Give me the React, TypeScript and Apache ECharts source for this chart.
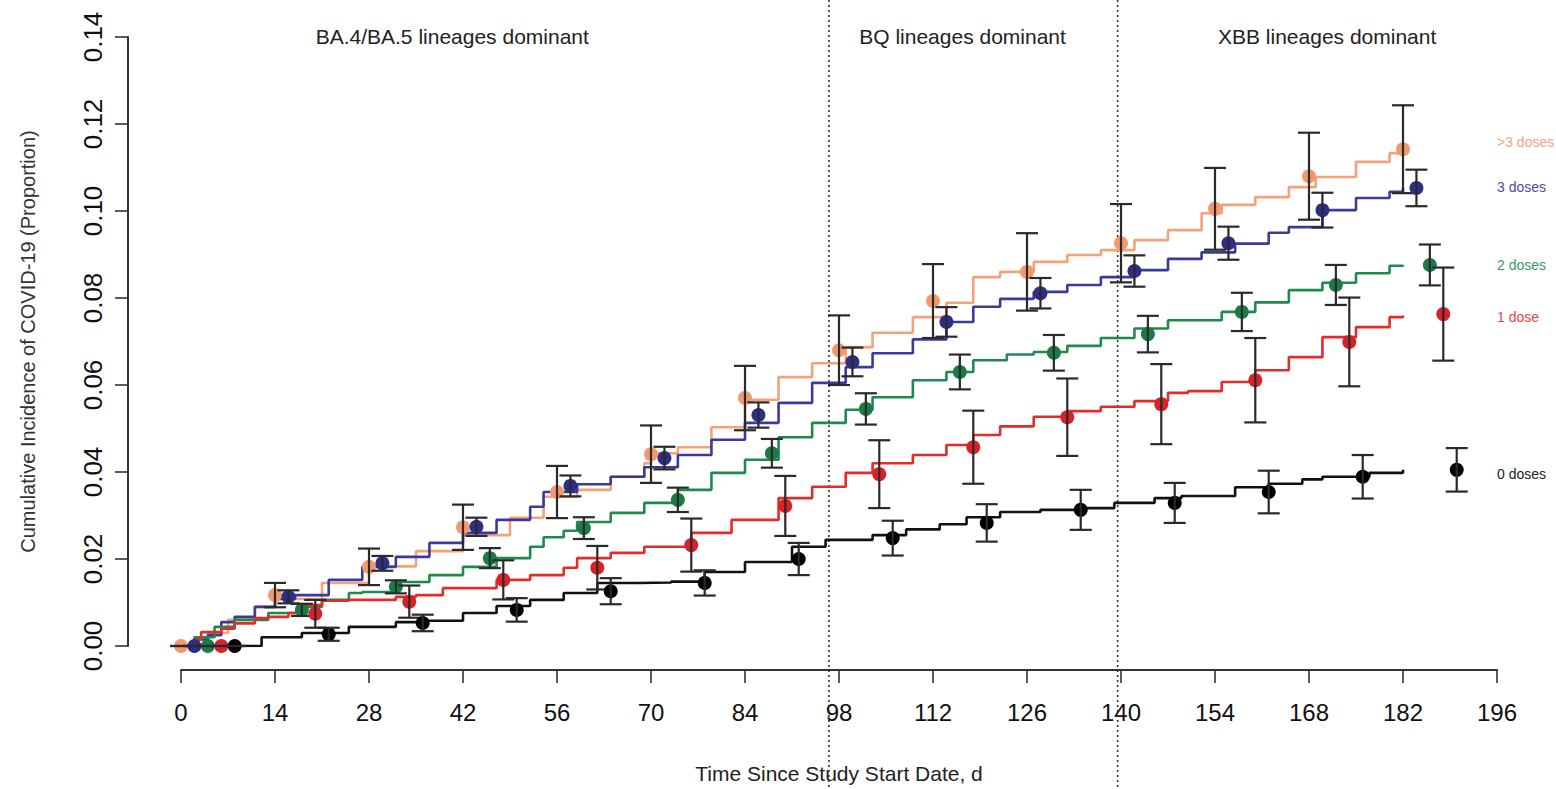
import React, { useEffect, useRef } from "react";
import * as echarts from "echarts";

// ---- Axis ticks ----
const xTicks = [0, 14, 28, 42, 56, 70, 84, 98, 112, 126, 140, 154, 168, 182, 196];
const yTicks = [0, 0.02, 0.04, 0.06, 0.08, 0.1, 0.12, 0.14];

// ---- Group names and colours ----
const groupNames = [">3 doses", "3 doses", "2 doses", "1 dose", "0 doses"];
const lineColors = ["#F4A27A", "#3A3A9C", "#1F8A4E", "#E32B2B", "#111111"];
const pointColors = ["#F29A6E", "#2E2E86", "#1B7A45", "#D62228", "#000000"];
const labelColors = ["#F4A582", "#4B4BA3", "#3A9A66", "#E84545", "#222222"];

// ---- Cumulative incidence step curves [day, proportion] ----
const curveGt3 = [[0,0],[2,0.0015],[4,0.003],[7,0.006],[11,0.009],[14,0.0108],[21,0.0145],[28,0.0183],[35,0.0218],[42,0.0255],[49,0.0295],[54,0.0343],[59,0.0359],[64,0.0389],[69,0.042],[70,0.0443],[74,0.0457],[79,0.0503],[84,0.0566],[89,0.0618],[94,0.065],[99,0.0687],[103,0.072],[109,0.0756],[114,0.0789],[118,0.0848],[122,0.086],[127,0.0883],[132,0.0899],[137,0.091],[142,0.0933],[147,0.0956],[152,0.0995],[155,0.1014],[160,0.1032],[165,0.1055],[169,0.1078],[175,0.1113],[180,0.1133],[182,0.1142]];
const curve3 = [[0,0],[2,0.0015],[4,0.0025],[6,0.0055],[8,0.0067],[11,0.009],[14,0.0108],[17,0.0117],[22,0.0152],[27,0.0182],[32,0.0205],[37,0.0237],[42,0.026],[47,0.029],[52,0.032],[54,0.0354],[59,0.0372],[64,0.0389],[69,0.0411],[74,0.0439],[79,0.0474],[84,0.0513],[89,0.0559],[94,0.0605],[99,0.0641],[103,0.0673],[109,0.0705],[114,0.0745],[118,0.078],[122,0.0798],[127,0.0814],[132,0.083],[137,0.0848],[142,0.0864],[147,0.089],[152,0.0905],[157,0.0925],[162,0.095],[165,0.0963],[170,0.1002],[175,0.103],[180,0.1044],[182,0.1053]];
const curve2 = [[0,0],[2,0.002],[5,0.0044],[8,0.006],[13,0.0076],[18,0.009],[21,0.0106],[25,0.0122],[27,0.0124],[32,0.0147],[37,0.0163],[42,0.0182],[47,0.0202],[52,0.0228],[54,0.025],[57,0.0265],[59,0.0285],[64,0.0306],[69,0.0329],[74,0.0359],[79,0.0398],[84,0.0428],[89,0.048],[94,0.0513],[99,0.0543],[103,0.0572],[109,0.0611],[114,0.063],[118,0.0657],[123,0.067],[127,0.0676],[132,0.069],[137,0.0708],[142,0.073],[147,0.0749],[155,0.0768],[160,0.079],[165,0.0818],[170,0.0835],[175,0.0857],[180,0.0874],[182,0.0876]];
const curve1 = [[0,0],[2,0.0015],[3,0.0032],[6,0.004],[8,0.0052],[11,0.0064],[13,0.0067],[16,0.0076],[18,0.0094],[21,0.0104],[25,0.0106],[31,0.0106],[32,0.0113],[35,0.0117],[39,0.0133],[47,0.0152],[52,0.0163],[57,0.018],[59,0.0202],[64,0.0214],[69,0.0228],[76,0.026],[82,0.029],[89,0.034],[94,0.0366],[99,0.0398],[103,0.042],[109,0.0439],[114,0.0462],[118,0.0485],[122,0.0505],[127,0.0527],[132,0.054],[137,0.055],[142,0.0563],[147,0.0582],[150,0.0586],[155,0.0607],[160,0.0634],[165,0.0664],[170,0.071],[175,0.0733],[180,0.0756],[182,0.076]];
const curve0 = [[0,0],[9,0],[12,0.002],[18,0.003],[25,0.0044],[32,0.0055],[36,0.0058],[42,0.0076],[47,0.0092],[52,0.0106],[57,0.0122],[62,0.0145],[68,0.0146],[73,0.0148],[78,0.017],[84,0.0193],[91,0.0228],[96,0.0244],[103,0.0255],[108,0.0268],[113,0.028],[117,0.0296],[122,0.0308],[128,0.0313],[134,0.0317],[139,0.0329],[145,0.034],[149,0.0345],[157,0.0365],[162,0.0373],[167,0.0383],[170,0.0389],[177,0.0398],[182,0.0405]];
const curves = [curveGt3, curve3, curve2, curve1, curve0];

// ---- Point estimates with 95% CI, every 14 days, each group offset by 2 days ----
const pointDaysBase = [0, 14, 28, 42, 56, 70, 84, 98, 112, 126, 140, 154, 168, 182];
const dayOffsets = [0, 2, 4, 6, 8];
const ptGt3 = [0, 0.0117, 0.0182, 0.0273, 0.0354, 0.0441, 0.057, 0.068, 0.0793, 0.086, 0.0926, 0.1005, 0.108, 0.1142];
const ciGt3 = [0, 0.0028, 0.0042, 0.0052, 0.006, 0.0066, 0.0074, 0.008, 0.0085, 0.0089, 0.009, 0.0094, 0.01, 0.0101];
const pt3 = [0, 0.0113, 0.019, 0.0274, 0.0368, 0.0432, 0.0531, 0.0653, 0.0745, 0.0811, 0.0862, 0.0926, 0.1002, 0.1053];
const ci3 = [0, 0.0015, 0.0017, 0.0021, 0.0024, 0.0026, 0.0029, 0.0033, 0.0034, 0.0035, 0.0036, 0.0038, 0.004, 0.0042];
const pt2 = [0, 0.0083, 0.0136, 0.0202, 0.0271, 0.0336, 0.0443, 0.0545, 0.063, 0.0674, 0.0717, 0.0768, 0.083, 0.0876];
const ci2 = [0, 0.0014, 0.0015, 0.0023, 0.0025, 0.0028, 0.0033, 0.0036, 0.004, 0.0041, 0.0042, 0.0044, 0.0046, 0.0047];
const pt1 = [0, 0.0074, 0.0102, 0.0152, 0.018, 0.0232, 0.0322, 0.0395, 0.0457, 0.0526, 0.0556, 0.0611, 0.0699, 0.0763];
const ci1 = [0, 0.0032, 0.0037, 0.0045, 0.005, 0.0061, 0.0069, 0.0078, 0.0084, 0.0089, 0.0092, 0.0097, 0.0102, 0.0107];
const pt0 = [0, 0.0027, 0.0053, 0.0083, 0.0126, 0.0145, 0.02, 0.0248, 0.0283, 0.0313, 0.0329, 0.0354, 0.0389, 0.0405];
const ci0 = [0, 0.0015, 0.0019, 0.0027, 0.003, 0.0029, 0.0037, 0.004, 0.0043, 0.0046, 0.0046, 0.0049, 0.005, 0.005];
const points = [ptGt3, pt3, pt2, pt1, pt0];
const cis = [ciGt3, ci3, ci2, ci1, ci0];

// ---- Variant periods ----
const periodBreaks = [96.5, 139.5];
const periodLabels = ["BA.4/BA.5 lineages dominant", "BQ lineages dominant", "XBB lineages dominant"];
const periodLabelDays = [40.4, 116.4, 170.7];
const periodLabelY = 0.1402;

// ---- Right-hand group labels ----
const endLabelDay = 196;
const endLabelY = [0.1159, 0.1055, 0.0876, 0.0756, 0.0395];

const FONT = "'Liberation Sans', Arial, Helvetica, sans-serif";

export default function App() {
  const ref = useRef<HTMLDivElement>(null);

  useEffect(() => {
    if (!ref.current) return;
    const chart = echarts.init(ref.current, null, { renderer: "svg" });

    const lineSeries = curves.map((c, i) => ({
      type: "line",
      name: groupNames[i],
      data: c,
      step: "end",
      showSymbol: false,
      symbol: "none",
      lineStyle: { color: lineColors[i], width: 2.6 },
      z: 2 + i * 0.01,
      silent: true,
    }));

    const pointSeries = points.map((vals, gi) => ({
      type: "custom",
      name: groupNames[gi] + " estimates",
      clip: false,
      z: 4,
      silent: true,
      data: vals.map((v, k) => [pointDaysBase[k] + dayOffsets[gi], v, v - cis[gi][k], v + cis[gi][k]]),
      renderItem: (params: any, api: any) => {
        const x = api.value(0);
        const v = api.value(1);
        const lo = api.value(2);
        const hi = api.value(3);
        const p = api.coord([x, v]);
        const pl = api.coord([x, lo]);
        const ph = api.coord([x, hi]);
        const cap = 11;
        const stroke = { stroke: "#2a2a2a", lineWidth: 2.2 };
        return {
          type: "group",
          children: [
            { type: "circle", shape: { cx: p[0], cy: p[1], r: 7 }, style: { fill: pointColors[gi] } },
            { type: "line", shape: { x1: p[0], y1: pl[1], x2: p[0], y2: ph[1] }, style: stroke },
            { type: "line", shape: { x1: p[0] - cap, y1: pl[1], x2: p[0] + cap, y2: pl[1] }, style: stroke },
            { type: "line", shape: { x1: p[0] - cap, y1: ph[1], x2: p[0] + cap, y2: ph[1] }, style: stroke },
          ],
        };
      },
    }));

    const breakSeries = {
      type: "custom",
      name: "period breaks",
      clip: false,
      silent: true,
      z: 1,
      data: periodBreaks.map((d) => [d, 0]),
      renderItem: (params: any, api: any) => {
        const p = api.coord([api.value(0), 0]);
        return {
          type: "line",
          shape: { x1: p[0], y1: 0, x2: p[0], y2: api.getHeight() },
          style: { stroke: "#333", lineWidth: 1.6, lineDash: [2, 3] },
        };
      },
    };

    const periodLabelSeries = {
      type: "custom",
      name: "period labels",
      clip: false,
      silent: true,
      z: 5,
      data: periodLabelDays.map((d) => [d, periodLabelY]),
      renderItem: (params: any, api: any) => {
        const p = api.coord([api.value(0), api.value(1)]);
        return {
          type: "text",
          x: p[0],
          y: p[1],
          style: {
            text: periodLabels[params.dataIndex],
            fill: "#222",
            fontSize: 21,
            fontFamily: FONT,
            align: "center",
            verticalAlign: "middle",
          },
        };
      },
    };

    const endLabelSeries = {
      type: "custom",
      name: "group labels",
      clip: false,
      silent: true,
      z: 5,
      data: endLabelY.map((y) => [endLabelDay, y]),
      renderItem: (params: any, api: any) => {
        const p = api.coord([api.value(0), api.value(1)]);
        return {
          type: "text",
          x: p[0],
          y: p[1],
          style: {
            text: groupNames[params.dataIndex],
            fill: labelColors[params.dataIndex],
            fontSize: 14,
            fontFamily: FONT,
            align: "left",
            verticalAlign: "middle",
          },
        };
      },
    };

    chart.setOption({
      animation: false,
      backgroundColor: "#ffffff",
      textStyle: { fontFamily: FONT },
      grid: { left: 181, right: 59, top: 37, bottom: 143, containLabel: false },
      xAxis: {
        type: "value",
        min: xTicks[0],
        max: xTicks[xTicks.length - 1],
        interval: 14,
        offset: 24,
        name: "Time Since Study Start Date, d",
        nameLocation: "middle",
        nameGap: 93,
        nameTextStyle: { fontSize: 21, color: "#222", fontFamily: FONT },
        axisLine: { show: true, onZero: false, lineStyle: { color: "#333", width: 2 } },
        axisTick: { show: true, length: 13, inside: false, lineStyle: { color: "#333", width: 1.6 } },
        axisLabel: { fontSize: 24, color: "#111", margin: 30, fontFamily: FONT },
        splitLine: { show: false },
      },
      yAxis: {
        type: "value",
        min: yTicks[0],
        max: yTicks[yTicks.length - 1],
        interval: 0.02,
        offset: 53,
        name: "Cumulative Incidence of COVID-19 (Proportion)",
        nameLocation: "middle",
        nameGap: 90,
        nameTextStyle: { fontSize: 20, color: "#333", fontFamily: FONT },
        axisLine: { show: true, onZero: false, lineStyle: { color: "#333", width: 2 } },
        axisTick: { show: true, length: 13, inside: false, lineStyle: { color: "#333", width: 1.6 } },
        axisLabel: {
          fontSize: 26,
          color: "#111",
          rotate: 90,
          margin: 22,
          fontFamily: FONT,
          formatter: (v: number) => v.toFixed(2),
        },
        splitLine: { show: false },
      },
      series: [breakSeries, ...lineSeries, ...pointSeries, periodLabelSeries, endLabelSeries],
    });

    return () => chart.dispose();
  }, []);

  return (
    <div
      ref={ref}
      style={{ position: "fixed", left: 0, top: 0, width: 1556, height: 789, background: "#fff" }}
    />
  );
}
